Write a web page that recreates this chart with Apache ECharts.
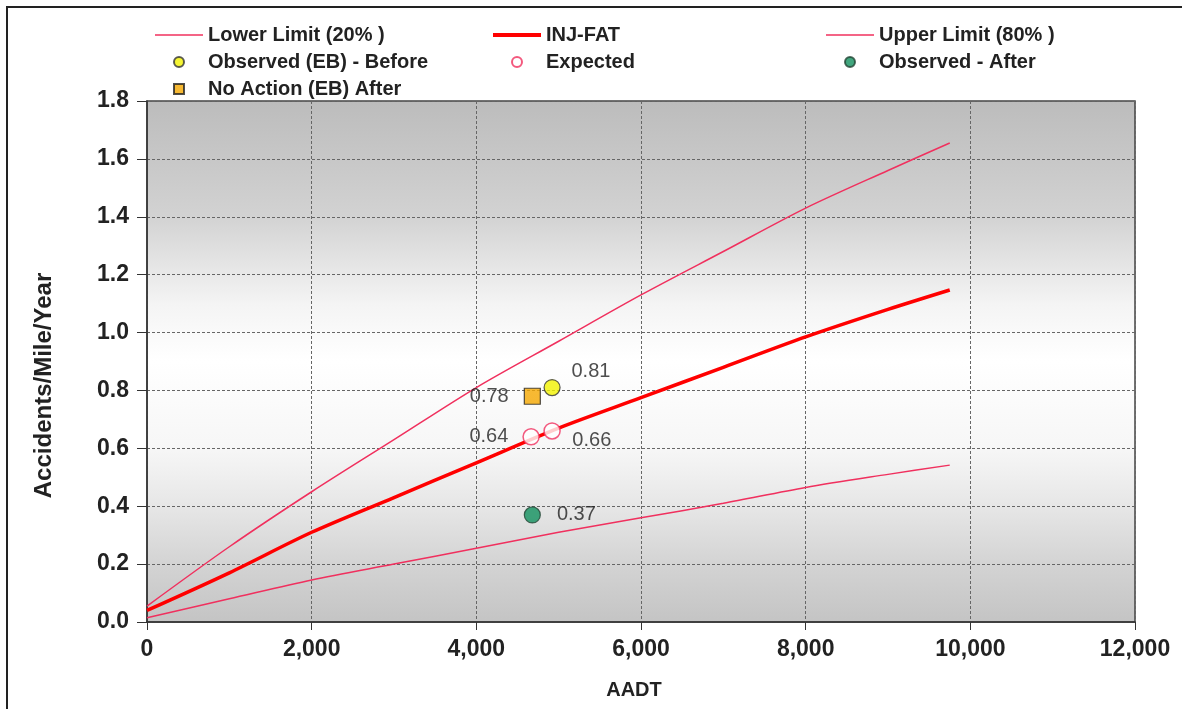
<!DOCTYPE html>
<html>
<head>
<meta charset="utf-8">
<script src="https://cdn.jsdelivr.net/npm/echarts@6/dist/echarts.min.js"></script>
<style>
html,body{margin:0;padding:0;background:#fff;}
#frame{position:absolute;left:6px;top:6px;width:1176px;height:703px;border:2px solid #222;border-right:none;border-bottom:none;box-sizing:border-box;}
#chart{position:absolute;left:0;top:0;width:1185px;height:711px;}
</style>
</head>
<body>
<div id="frame"></div>
<div id="chart"></div>
<script>
// AADT sample points of the curves
const aadt = [0, 1000, 2000, 3000, 4000, 5000, 6000, 7000, 8000, 9000, 9750];
const lowerLimit = [0.015, 0.08, 0.145, 0.20, 0.255, 0.31, 0.36, 0.41, 0.465, 0.51, 0.542];
const injFat     = [0.04, 0.17, 0.31, 0.43, 0.55, 0.67, 0.775, 0.88, 0.985, 1.08, 1.147];
const upperLimit = [0.055, 0.26, 0.45, 0.63, 0.81, 0.97, 1.13, 1.28, 1.43, 1.56, 1.655];

const observedBefore = [[4920, 0.81]];
const expected = [[4665, 0.64], [4920, 0.66]];
const observedAfter = [[4680, 0.37]];
const noActionAfter = [[4680, 0.78]];

const xTicks = [0, 2000, 4000, 6000, 8000, 10000, 12000];
const yTicks = [0, 0.2, 0.4, 0.6, 0.8, 1.0, 1.2, 1.4, 1.6, 1.8];

const pair = (ys) => aadt.map((x, i) => [x, ys[i]]);
const FONT = '"Liberation Sans", Arial, sans-serif';
const legendText = {fontFamily: FONT, fontSize: 20, fontWeight: 'bold', color: '#222', lineHeight: 20};
const labelStyle = {show: true, fontFamily: FONT, fontSize: 20, color: '#222',
  formatter: p => p.value[1].toFixed(2)};
const thinIcon = 'path://M0,0H48V1.6H0Z';
const thickIcon = 'path://M0,0H48V4H0Z';
const squareIcon = 'path://M0,0H10V10H0Z';
const legendCommon = {top: 20, orient: 'vertical', itemGap: 7, itemWidth: 48, itemHeight: 10,
  textStyle: legendText};
const noBorder = {borderWidth: 0};

const chart = echarts.init(document.getElementById('chart'));
chart.setOption({
  animation: false,
  backgroundColor: 'transparent',
  grid: {
    left: 147, right: 50, top: 101, bottom: 89, show: true,
    borderColor: '#444', borderWidth: 1.5,
    backgroundColor: new echarts.graphic.LinearGradient(0, 0, 0, 1, [
      {offset: 0, color: '#bcbcbc'},
      {offset: 0.22, color: '#d2d2d2'},
      {offset: 0.39, color: '#f4f4f4'},
      {offset: 0.5, color: '#ffffff'},
      {offset: 0.67, color: '#f6f6f6'},
      {offset: 0.78, color: '#e6e6e6'},
      {offset: 0.89, color: '#d3d3d3'},
      {offset: 1, color: '#c4c4c4'}
    ])
  },
  legend: [
    Object.assign({left: 150, data: [
      {name: 'Lower Limit (20% )', icon: thinIcon, itemStyle: noBorder},
      {name: 'Observed (EB) - Before', icon: 'circle'},
      {name: 'No Action (EB) After', icon: squareIcon}]}, legendCommon),
    Object.assign({left: 488, data: [
      {name: 'INJ-FAT', icon: thickIcon, itemStyle: noBorder},
      {name: 'Expected', icon: 'circle'}]}, legendCommon),
    Object.assign({left: 821, data: [
      {name: 'Upper Limit (80% )', icon: thinIcon, itemStyle: noBorder},
      {name: 'Observed - After', icon: 'circle'}]}, legendCommon)
  ],
  xAxis: {
    type: 'value', min: 0, max: 12000, interval: 2000,
    name: 'AADT', nameLocation: 'middle', nameGap: 58,
    nameTextStyle: {fontFamily: FONT, fontSize: 20, fontWeight: 'bold', color: '#222', padding: [0, 14, 0, 0]},
    axisLine: {show: true, lineStyle: {color: '#333', width: 1.5}},
    axisTick: {show: true, length: 8, lineStyle: {color: '#333'}},
    axisLabel: {fontFamily: FONT, fontSize: 23, fontWeight: 'bold', color: '#222', margin: 16,
      formatter: v => xTicks.includes(v) ? v.toLocaleString('en-US') : ''},
    splitLine: {show: true, lineStyle: {color: '#666', type: [3, 2], width: 1}}
  },
  yAxis: {
    type: 'value', min: 0, max: 1.8, interval: 0.2,
    name: 'Accidents/Mile/Year', nameLocation: 'middle', nameGap: 91,
    nameTextStyle: {fontFamily: FONT, fontSize: 24, fontWeight: 'bold', color: '#222', padding: [0, 48, 0, 0]},
    axisLine: {show: true, lineStyle: {color: '#333', width: 1.5}},
    axisTick: {show: true, length: 10, lineStyle: {color: '#333'}},
    axisLabel: {fontFamily: FONT, fontSize: 23, fontWeight: 'bold', color: '#222', margin: 18,
      formatter: v => v.toFixed(1)},
    splitLine: {show: true, lineStyle: {color: '#666', type: [3, 2], width: 1}}
  },
  series: [
    {name: 'Lower Limit (20% )', type: 'line', data: pair(lowerLimit), smooth: 0.3, showSymbol: false,
     symbol: 'none', lineStyle: {color: '#f0305e', width: 1.5}, itemStyle: {color: '#f0305e'}},
    {name: 'INJ-FAT', type: 'line', data: pair(injFat), smooth: 0.3, showSymbol: false,
     symbol: 'none', lineStyle: {color: '#ff0000', width: 3.5}, itemStyle: {color: '#ff0000'}},
    {name: 'Upper Limit (80% )', type: 'line', data: pair(upperLimit), smooth: 0.3, showSymbol: false,
     symbol: 'none', lineStyle: {color: '#f0305e', width: 1.5}, itemStyle: {color: '#f0305e'}},
    {name: 'Observed (EB) - Before', type: 'scatter', data: observedBefore, symbol: 'circle', symbolSize: 16,
     itemStyle: {color: '#f2f200', borderColor: '#333', borderWidth: 1.2},
     label: Object.assign({}, labelStyle, {position: [28, -17]}), z: 5},
    {name: 'Expected', type: 'scatter', symbol: 'circle', symbolSize: 16,
     itemStyle: {color: '#ffffff', borderColor: '#f0305e', borderWidth: 1.5},
     data: [
       {value: expected[0], label: Object.assign({}, labelStyle, {position: 'left', distance: 14})},
       {value: expected[1], label: Object.assign({}, labelStyle, {position: [29, 8]})}
     ], z: 5},
    {name: 'Observed - After', type: 'scatter', data: observedAfter, symbol: 'circle', symbolSize: 16,
     itemStyle: {color: '#12905e', borderColor: '#224433', borderWidth: 1.2},
     label: Object.assign({}, labelStyle, {position: 'right', distance: 16}), z: 5},
    {name: 'No Action (EB) After', type: 'scatter', data: noActionAfter, symbol: 'rect', symbolSize: 16,
     itemStyle: {color: '#f5a800', borderColor: '#222', borderWidth: 1.2},
     label: Object.assign({}, labelStyle, {position: 'left', distance: 15}), z: 5}
  ]
});
</script>
</body>
</html>
